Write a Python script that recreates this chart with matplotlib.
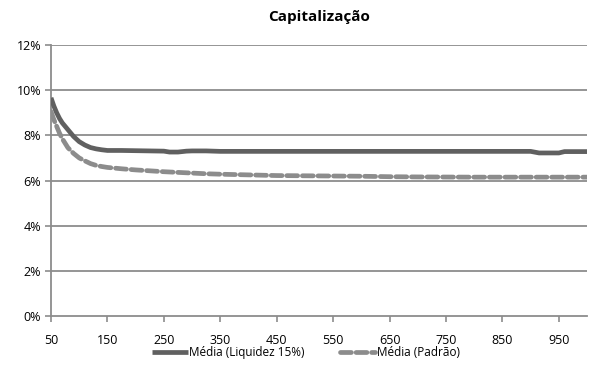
import matplotlib
matplotlib.use("Agg")
import matplotlib.pyplot as plt
from matplotlib.ticker import FuncFormatter, FixedLocator

plt.rcParams['font.family'] = ['Open Sans', 'DejaVu Sans']

# Média (Liquidez 15%) - solid line
x_liq = [50, 55, 60, 65, 70, 75, 80, 90, 100, 110, 120, 130, 140, 150, 175, 200,
         225, 250, 260, 275, 290, 300, 325, 350, 400, 450, 500, 600, 700, 800,
         900, 915, 950, 960, 1000]
y_liq = [9.66, 9.3, 9.0, 8.75, 8.55, 8.4, 8.25, 7.95, 7.72, 7.57, 7.46, 7.4, 7.36, 7.33, 7.33, 7.32,
         7.31, 7.30, 7.26, 7.26, 7.30, 7.31, 7.31, 7.29, 7.29, 7.29, 7.29, 7.29, 7.29, 7.29,
         7.29, 7.22, 7.22, 7.28, 7.28]

# Média (Padrão) - dashed line
x_pad = [50, 55, 60, 65, 70, 75, 80, 90, 100, 110, 120, 130, 140, 150, 175, 200,
         225, 250, 275, 300, 325, 350, 400, 450, 500, 550, 600, 650, 700, 800, 900, 1000]
y_pad = [9.05, 8.7, 8.4, 8.1, 7.85, 7.65, 7.45, 7.2, 7.0, 6.87, 6.75, 6.67, 6.62, 6.58, 6.52, 6.47,
         6.43, 6.39, 6.36, 6.33, 6.3, 6.28, 6.25, 6.22, 6.21, 6.2, 6.19, 6.17, 6.16, 6.15, 6.15, 6.15]

x_ticks = [50, 150, 250, 350, 450, 550, 650, 750, 850, 950]
y_ticks = [0, 2, 4, 6, 8, 10, 12]

fig = plt.figure(figsize=(5.93, 3.87), dpi=100)
ax = fig.add_axes([0.086, 0.183, 0.904, 0.701])

grid_col = '#8c8c8c'
for yt in y_ticks[1:]:
    ax.axhline(yt, color=grid_col, lw=1.3, zorder=1)

ax.plot(x_liq, y_liq, color='#606060', lw=3.4, solid_capstyle='butt', zorder=3,
        label='Média (Liquidez 15%)')
ax.plot(x_pad, y_pad, color='#8c8c8c', lw=3.4, dashes=(2.3, 1.0), dash_capstyle='round',
        zorder=2, label='Média (Padrão)')

ax.set_xlim(50, 1000)
ax.set_ylim(0, 12)
ax.xaxis.set_major_locator(FixedLocator(x_ticks))
ax.yaxis.set_major_locator(FixedLocator(y_ticks))
ax.yaxis.set_major_formatter(FuncFormatter(lambda v, p: f'{int(v)}%'))

for s in ['top', 'right']:
    ax.spines[s].set_visible(False)
for s in ['left', 'bottom']:
    ax.spines[s].set_color(grid_col)
    ax.spines[s].set_linewidth(1.3)
ax.tick_params(axis='both', colors=grid_col, labelcolor='black', labelsize=9,
               length=4, width=1.2, direction='out')
ax.tick_params(axis='x', pad=9)
ax.tick_params(axis='y', pad=3)

ax.set_title('Capitalização', fontsize=11, fontweight='bold', pad=17)

fig.legend(loc='center', bbox_to_anchor=(0.516, 0.09), ncol=2, frameon=False,
           fontsize=8.5, handlelength=3.0, handletextpad=0.1, columnspacing=3.0)

fig.savefig('out.png', dpi=100)
